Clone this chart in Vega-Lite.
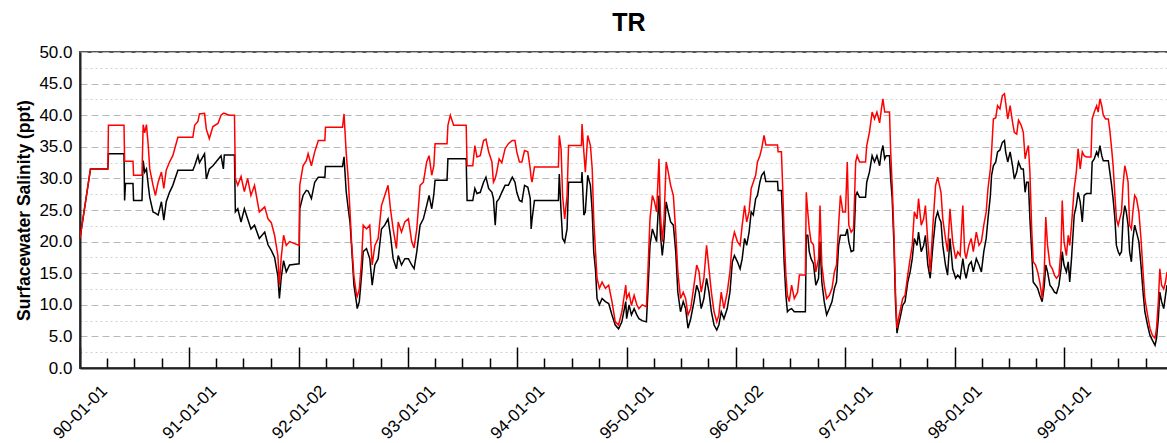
{
  "$schema": "https://vega.github.io/schema/vega-lite/v6.json",
  "width": 1090,
  "height": 316,
  "autosize": {"type": "none"},
  "padding": {"left": 80, "top": 52, "right": 0, "bottom": 75},
  "background": "white",
  "config": {
    "font": "Liberation Sans",
    "view": {"stroke": "#555555", "strokeWidth": 2}
  },
  "title": {"text": "TR", "fontSize": 25, "fontWeight": "bold", "color": "#000000", "offset": 7, "anchor": "middle", "dx": 4},
  "data": {"values": [
    {"d":"1990-01-01","r":20.5,"b":20.5},
    {"d":"1990-02-05","r":31.5,"b":31.5},
    {"d":"1990-04-04","r":31.5,"b":31.5},
    {"d":"1990-04-06","r":38.4,"b":33.9},
    {"d":"1990-05-28","r":38.4,"b":33.9},
    {"d":"1990-05-30","r":32.7,"b":26.5},
    {"d":"1990-06-02","r":32.7,"b":29.2},
    {"d":"1990-06-27","r":32.7,"b":29.2},
    {"d":"1990-06-29","r":30.5,"b":26.5},
    {"d":"1990-07-27","r":30.5,"b":26.5},
    {"d":"1990-07-31","r":38.5,"b":32.8},
    {"d":"1990-08-05","r":37.2,"b":31},
    {"d":"1990-08-11","r":38.5,"b":31.5},
    {"d":"1990-08-17","r":35.2,"b":28.9},
    {"d":"1990-08-22","r":31.5,"b":27},
    {"d":"1990-09-02","r":28.9,"b":24.7},
    {"d":"1990-09-10","r":27.3,"b":24.5},
    {"d":"1990-09-19","r":29.4,"b":24.2},
    {"d":"1990-09-30","r":31,"b":26.3},
    {"d":"1990-10-08","r":28.4,"b":23.4},
    {"d":"1990-10-16","r":31.3,"b":26.3},
    {"d":"1990-10-27","r":32.6,"b":27.8},
    {"d":"1990-11-07","r":33.6,"b":28.9},
    {"d":"1990-11-24","r":36.5,"b":31.3},
    {"d":"1991-01-13","r":36.5,"b":31.3},
    {"d":"1991-01-19","r":38.4,"b":32},
    {"d":"1991-01-30","r":39,"b":33.6},
    {"d":"1991-02-04","r":40.2,"b":32.5},
    {"d":"1991-02-21","r":40.3,"b":33.9},
    {"d":"1991-02-27","r":37.8,"b":29.9},
    {"d":"1991-03-09","r":36.3,"b":31.5},
    {"d":"1991-03-21","r":38.2,"b":32},
    {"d":"1991-04-07","r":38.7,"b":33},
    {"d":"1991-04-17","r":40,"b":33.6},
    {"d":"1991-04-25","r":40.3,"b":31.5},
    {"d":"1991-04-28","r":40.3,"b":33.7},
    {"d":"1991-05-15","r":40,"b":33.7},
    {"d":"1991-06-01","r":40,"b":33.7},
    {"d":"1991-06-04","r":30,"b":24.7},
    {"d":"1991-06-12","r":28.9,"b":25.2},
    {"d":"1991-06-23","r":30.3,"b":23.1},
    {"d":"1991-07-04","r":27.9,"b":25.2},
    {"d":"1991-07-15","r":30,"b":23.6},
    {"d":"1991-07-26","r":27.3,"b":22},
    {"d":"1991-08-07","r":28.9,"b":22.6},
    {"d":"1991-08-23","r":24.7,"b":20.5},
    {"d":"1991-09-10","r":25.5,"b":21.5},
    {"d":"1991-09-21","r":23.6,"b":19.5},
    {"d":"1991-10-02","r":23,"b":18.6},
    {"d":"1991-10-13","r":21,"b":17.5},
    {"d":"1991-10-24","r":17.8,"b":14.5},
    {"d":"1991-10-29","r":13.1,"b":11},
    {"d":"1991-11-04","r":17.4,"b":14.2},
    {"d":"1991-11-12","r":21,"b":17},
    {"d":"1991-11-21","r":19.4,"b":15.2},
    {"d":"1991-12-02","r":20,"b":16.3},
    {"d":"1992-01-03","r":19.4,"b":16.5},
    {"d":"1992-01-05","r":28.9,"b":25.2},
    {"d":"1992-01-16","r":32,"b":27.3},
    {"d":"1992-01-27","r":32.8,"b":28.1},
    {"d":"1992-02-02","r":33.9,"b":28},
    {"d":"1992-02-13","r":32,"b":26.8},
    {"d":"1992-02-24","r":34.2,"b":29.4},
    {"d":"1992-03-07","r":36,"b":30.2},
    {"d":"1992-03-29","r":36,"b":30.2},
    {"d":"1992-03-31","r":38.1,"b":31.9},
    {"d":"1992-05-27","r":38.1,"b":31.9},
    {"d":"1992-06-01","r":40.2,"b":33.4},
    {"d":"1992-06-08","r":34.2,"b":28},
    {"d":"1992-06-15","r":29.9,"b":25.2},
    {"d":"1992-06-21","r":24.7,"b":23},
    {"d":"1992-06-26","r":20,"b":19.4},
    {"d":"1992-07-04","r":14.5,"b":13.1},
    {"d":"1992-07-13","r":11.5,"b":10.2},
    {"d":"1992-07-15","r":11.3,"b":9.4},
    {"d":"1992-07-22","r":12.5,"b":10.5},
    {"d":"1992-07-30","r":17.3,"b":15},
    {"d":"1992-08-04","r":22.6,"b":18.4},
    {"d":"1992-08-15","r":22,"b":18.9},
    {"d":"1992-08-26","r":22.6,"b":17.3},
    {"d":"1992-09-03","r":16.3,"b":13.1},
    {"d":"1992-09-12","r":19.4,"b":16.3},
    {"d":"1992-09-23","r":20.5,"b":17.3},
    {"d":"1992-10-04","r":25.7,"b":22},
    {"d":"1992-10-15","r":27.3,"b":22.6},
    {"d":"1992-10-26","r":28.9,"b":23.6},
    {"d":"1992-11-03","r":25.2,"b":21},
    {"d":"1992-11-12","r":22,"b":17.3},
    {"d":"1992-11-23","r":18.9,"b":15.7},
    {"d":"1992-11-29","r":23.1,"b":17.8},
    {"d":"1992-12-10","r":21.5,"b":16.3},
    {"d":"1992-12-21","r":23.1,"b":17.3},
    {"d":"1993-01-02","r":23.6,"b":17.3},
    {"d":"1993-01-13","r":20,"b":16.3},
    {"d":"1993-01-21","r":19,"b":15.7},
    {"d":"1993-01-30","r":22,"b":18.4},
    {"d":"1993-02-10","r":28.9,"b":22.6},
    {"d":"1993-02-21","r":29.4,"b":23.6},
    {"d":"1993-03-04","r":32.6,"b":25.7},
    {"d":"1993-03-12","r":33.6,"b":27.3},
    {"d":"1993-03-21","r":30.5,"b":25.2},
    {"d":"1993-03-28","r":32,"b":27.5},
    {"d":"1993-04-01","r":35.5,"b":29.7},
    {"d":"1993-05-11","r":35.5,"b":29.7},
    {"d":"1993-05-14","r":38.4,"b":33.1},
    {"d":"1993-05-22","r":40,"b":33.1},
    {"d":"1993-06-02","r":38.4,"b":33.1},
    {"d":"1993-07-14","r":38.4,"b":33.1},
    {"d":"1993-07-17","r":32,"b":26.5},
    {"d":"1993-08-05","r":32,"b":26.5},
    {"d":"1993-08-12","r":35.2,"b":28.4},
    {"d":"1993-08-19","r":33.4,"b":27.6},
    {"d":"1993-08-30","r":33.6,"b":27.8},
    {"d":"1993-09-10","r":36,"b":29.4},
    {"d":"1993-09-18","r":36.2,"b":30.2},
    {"d":"1993-09-27","r":34.2,"b":28.4},
    {"d":"1993-10-08","r":32.6,"b":27.8},
    {"d":"1993-10-13","r":29.4,"b":26.8},
    {"d":"1993-10-19","r":30,"b":22.6},
    {"d":"1993-10-24","r":31,"b":26.3},
    {"d":"1993-11-01","r":33.1,"b":26.8},
    {"d":"1993-11-10","r":32.5,"b":27.8},
    {"d":"1993-11-21","r":34.7,"b":28.9},
    {"d":"1993-12-02","r":35.5,"b":28.9},
    {"d":"1993-12-15","r":36,"b":30.2},
    {"d":"1993-12-24","r":36,"b":29.4},
    {"d":"1993-12-30","r":34.2,"b":27.8},
    {"d":"1994-01-08","r":32.6,"b":26.5},
    {"d":"1994-01-16","r":32.6,"b":26.3},
    {"d":"1994-01-25","r":34.4,"b":28.9},
    {"d":"1994-02-05","r":34.2,"b":28.6},
    {"d":"1994-02-13","r":31.5,"b":26.8},
    {"d":"1994-02-16","r":30,"b":22},
    {"d":"1994-02-19","r":29.4,"b":23.5},
    {"d":"1994-02-27","r":31.8,"b":26.5},
    {"d":"1994-05-18","r":31.8,"b":26.5},
    {"d":"1994-05-21","r":36.8,"b":30.7},
    {"d":"1994-05-27","r":34.7,"b":24.7},
    {"d":"1994-06-01","r":27.3,"b":20.5},
    {"d":"1994-06-08","r":23.6,"b":19.9},
    {"d":"1994-06-16","r":27.3,"b":22},
    {"d":"1994-06-21","r":35.2,"b":29.4},
    {"d":"1994-08-03","r":35.2,"b":29.4},
    {"d":"1994-08-05","r":38.6,"b":31},
    {"d":"1994-08-11","r":34.2,"b":24.2},
    {"d":"1994-08-16","r":31,"b":24.7},
    {"d":"1994-08-24","r":36.8,"b":30.5},
    {"d":"1994-09-02","r":35.2,"b":28.9},
    {"d":"1994-09-08","r":31.5,"b":24.7},
    {"d":"1994-09-13","r":23.6,"b":18.4},
    {"d":"1994-09-19","r":18.4,"b":15.5},
    {"d":"1994-09-24","r":14.2,"b":11},
    {"d":"1994-10-02","r":12.6,"b":10},
    {"d":"1994-10-11","r":13.6,"b":11},
    {"d":"1994-10-22","r":12.6,"b":10.5},
    {"d":"1994-11-02","r":13.1,"b":10.2},
    {"d":"1994-11-13","r":10.5,"b":8.4},
    {"d":"1994-11-24","r":7.3,"b":6.8},
    {"d":"1994-12-05","r":6.8,"b":6.2},
    {"d":"1994-12-16","r":8.9,"b":7.3},
    {"d":"1994-12-29","r":13.1,"b":10.5},
    {"d":"1995-01-01","r":11,"b":7.8},
    {"d":"1995-01-09","r":11.8,"b":10},
    {"d":"1995-01-17","r":9.9,"b":8.4},
    {"d":"1995-01-26","r":11.5,"b":9.4},
    {"d":"1995-02-04","r":10,"b":8.4},
    {"d":"1995-02-11","r":9.4,"b":7.8},
    {"d":"1995-02-22","r":10,"b":7.5},
    {"d":"1995-03-08","r":9.7,"b":7.3},
    {"d":"1995-03-13","r":15.2,"b":12},
    {"d":"1995-03-20","r":23.6,"b":19.4},
    {"d":"1995-03-28","r":27.3,"b":22},
    {"d":"1995-04-04","r":26.3,"b":21},
    {"d":"1995-04-11","r":24.7,"b":20},
    {"d":"1995-04-19","r":33.1,"b":27.3},
    {"d":"1995-04-24","r":24.2,"b":21},
    {"d":"1995-04-30","r":20,"b":17.8},
    {"d":"1995-05-06","r":23.6,"b":20.5},
    {"d":"1995-05-13","r":32.6,"b":26.3},
    {"d":"1995-05-20","r":31,"b":24.7},
    {"d":"1995-05-28","r":28.9,"b":23.1},
    {"d":"1995-06-06","r":27.3,"b":22.6},
    {"d":"1995-06-14","r":21.5,"b":18.4},
    {"d":"1995-06-21","r":15.2,"b":12},
    {"d":"1995-06-30","r":11,"b":8.9},
    {"d":"1995-07-09","r":12,"b":10.5},
    {"d":"1995-07-17","r":11,"b":9.4},
    {"d":"1995-07-25","r":8.4,"b":6.3},
    {"d":"1995-08-03","r":9.4,"b":7.8},
    {"d":"1995-08-14","r":13.1,"b":10.5},
    {"d":"1995-08-23","r":16.3,"b":13.1},
    {"d":"1995-08-31","r":15.2,"b":12},
    {"d":"1995-09-07","r":12,"b":9.4},
    {"d":"1995-09-16","r":14.2,"b":11},
    {"d":"1995-09-25","r":19.4,"b":14.2},
    {"d":"1995-10-03","r":15.7,"b":12},
    {"d":"1995-10-11","r":12,"b":8.9},
    {"d":"1995-10-20","r":8.9,"b":6.8},
    {"d":"1995-10-29","r":7.3,"b":6},
    {"d":"1995-11-05","r":8.4,"b":6.8},
    {"d":"1995-11-13","r":12,"b":8.9},
    {"d":"1995-11-22","r":9.4,"b":7.8},
    {"d":"1995-12-03","r":12,"b":9.4},
    {"d":"1995-12-12","r":15.2,"b":12},
    {"d":"1995-12-20","r":20,"b":16.8},
    {"d":"1995-12-27","r":21.5,"b":17.8},
    {"d":"1996-01-06","r":20,"b":16.8},
    {"d":"1996-01-15","r":19.4,"b":15.7},
    {"d":"1996-01-22","r":22.6,"b":17.3},
    {"d":"1996-01-30","r":25.7,"b":20.5},
    {"d":"1996-02-06","r":23.1,"b":19.4},
    {"d":"1996-02-14","r":24.7,"b":21.5},
    {"d":"1996-02-21","r":28.4,"b":24.7},
    {"d":"1996-02-28","r":29.4,"b":24.2},
    {"d":"1996-03-07","r":30.5,"b":26.8},
    {"d":"1996-03-13","r":32.6,"b":27.3},
    {"d":"1996-03-21","r":33.6,"b":29.4},
    {"d":"1996-03-27","r":34.7,"b":30.5},
    {"d":"1996-04-04","r":36.8,"b":31},
    {"d":"1996-04-10","r":35.3,"b":29.5},
    {"d":"1996-05-19","r":35.3,"b":29.5},
    {"d":"1996-05-21","r":34.2,"b":28.1},
    {"d":"1996-06-01","r":34.2,"b":28.1},
    {"d":"1996-06-05","r":28.9,"b":23.6},
    {"d":"1996-06-10","r":21,"b":16.8},
    {"d":"1996-06-16","r":14.7,"b":11.5},
    {"d":"1996-06-21","r":11.5,"b":8.9},
    {"d":"1996-06-27","r":10.5,"b":9.2},
    {"d":"1996-07-05","r":13.1,"b":9.4},
    {"d":"1996-07-14","r":11,"b":8.9},
    {"d":"1996-07-25","r":12,"b":8.9},
    {"d":"1996-07-31","r":14.7,"b":8.9},
    {"d":"1996-08-20","r":14.7,"b":8.9},
    {"d":"1996-08-23","r":27.8,"b":21},
    {"d":"1996-08-28","r":24.7,"b":21},
    {"d":"1996-09-02","r":22,"b":18.4},
    {"d":"1996-09-08","r":20,"b":17.3},
    {"d":"1996-09-16","r":19.5,"b":16.5},
    {"d":"1996-09-24","r":15.2,"b":13.1},
    {"d":"1996-10-03","r":17.3,"b":14.2},
    {"d":"1996-10-08","r":25.7,"b":20},
    {"d":"1996-10-14","r":16.3,"b":13.6},
    {"d":"1996-10-22","r":13.1,"b":10.5},
    {"d":"1996-10-30","r":11,"b":8.4},
    {"d":"1996-11-08","r":11.5,"b":9.4},
    {"d":"1996-11-17","r":12.6,"b":10.5},
    {"d":"1996-11-25","r":15.2,"b":12.6},
    {"d":"1996-12-02","r":16.3,"b":13.6},
    {"d":"1996-12-09","r":22.6,"b":19.4},
    {"d":"1996-12-15","r":27.3,"b":21},
    {"d":"1996-12-23","r":24.7,"b":21},
    {"d":"1997-01-01","r":24.7,"b":21},
    {"d":"1997-01-07","r":32.6,"b":22},
    {"d":"1997-01-12","r":22.6,"b":20},
    {"d":"1997-01-20","r":21.5,"b":18.4},
    {"d":"1997-01-28","r":22,"b":18.6},
    {"d":"1997-02-04","r":32.6,"b":27.3},
    {"d":"1997-02-09","r":33.6,"b":27.8},
    {"d":"1997-02-17","r":32.6,"b":27},
    {"d":"1997-03-09","r":32.6,"b":27},
    {"d":"1997-03-13","r":35.2,"b":29.4},
    {"d":"1997-03-22","r":37.3,"b":31},
    {"d":"1997-03-31","r":40.5,"b":33.6},
    {"d":"1997-04-08","r":39.4,"b":32.6},
    {"d":"1997-04-16","r":40.5,"b":33.6},
    {"d":"1997-04-25","r":38.8,"b":32},
    {"d":"1997-05-01","r":41,"b":34.2},
    {"d":"1997-05-06","r":42.6,"b":35.2},
    {"d":"1997-05-12","r":40.5,"b":33.1},
    {"d":"1997-05-17","r":40.5,"b":33.6},
    {"d":"1997-05-28","r":40.5,"b":33.6},
    {"d":"1997-06-01","r":34.2,"b":29.9},
    {"d":"1997-06-06","r":28.9,"b":26.8},
    {"d":"1997-06-12","r":21,"b":19.4},
    {"d":"1997-06-17","r":12,"b":10.5},
    {"d":"1997-06-22","r":6.3,"b":5.5},
    {"d":"1997-06-27","r":7.8,"b":6.8},
    {"d":"1997-07-02","r":8.9,"b":7.8},
    {"d":"1997-07-11","r":11,"b":9.9},
    {"d":"1997-07-19","r":11.5,"b":10.5},
    {"d":"1997-07-28","r":14.7,"b":13.6},
    {"d":"1997-08-05","r":17.3,"b":15.2},
    {"d":"1997-08-12","r":19.4,"b":17.3},
    {"d":"1997-08-19","r":24.7,"b":20.5},
    {"d":"1997-08-28","r":23.6,"b":19.4},
    {"d":"1997-09-02","r":26.8,"b":21.5},
    {"d":"1997-09-11","r":22.6,"b":18.4},
    {"d":"1997-09-19","r":23.6,"b":19.4},
    {"d":"1997-09-25","r":25.7,"b":21},
    {"d":"1997-10-03","r":20,"b":16.3},
    {"d":"1997-10-11","r":15.2,"b":14.2},
    {"d":"1997-10-20","r":22.6,"b":19.4},
    {"d":"1997-10-29","r":28.9,"b":23.6},
    {"d":"1997-11-05","r":30.2,"b":24.7},
    {"d":"1997-11-11","r":28.9,"b":23.6},
    {"d":"1997-11-16","r":27.8,"b":23.1},
    {"d":"1997-11-22","r":23.6,"b":19.4},
    {"d":"1997-12-01","r":20.5,"b":16.3},
    {"d":"1997-12-08","r":18.4,"b":14.7},
    {"d":"1997-12-16","r":25.2,"b":20.5},
    {"d":"1997-12-25","r":20,"b":15.7},
    {"d":"1998-01-04","r":17.3,"b":14.2},
    {"d":"1998-01-11","r":18.4,"b":14.7},
    {"d":"1998-01-19","r":17.8,"b":14.2},
    {"d":"1998-01-28","r":25.7,"b":17.3},
    {"d":"1998-02-03","r":18.4,"b":15.2},
    {"d":"1998-02-08","r":17.3,"b":14.2},
    {"d":"1998-02-17","r":19.4,"b":16.3},
    {"d":"1998-02-25","r":20.5,"b":16.8},
    {"d":"1998-03-04","r":18.4,"b":15.2},
    {"d":"1998-03-14","r":21.5,"b":17.3},
    {"d":"1998-03-23","r":19.4,"b":16.3},
    {"d":"1998-03-31","r":20,"b":15.2},
    {"d":"1998-04-08","r":22.6,"b":18.4},
    {"d":"1998-04-16","r":24.7,"b":20.5},
    {"d":"1998-04-22","r":28.4,"b":23.6},
    {"d":"1998-04-30","r":31.5,"b":27.3},
    {"d":"1998-05-04","r":34.2,"b":30.5},
    {"d":"1998-05-10","r":39.4,"b":32},
    {"d":"1998-05-18","r":39.6,"b":32.6},
    {"d":"1998-05-24","r":41.5,"b":34.2},
    {"d":"1998-06-01","r":41,"b":34.5},
    {"d":"1998-06-09","r":43.1,"b":35.7},
    {"d":"1998-06-16","r":43.4,"b":36},
    {"d":"1998-06-20","r":42,"b":34.2},
    {"d":"1998-06-27","r":39.4,"b":32.6},
    {"d":"1998-07-05","r":41.5,"b":34.2},
    {"d":"1998-07-13","r":38.9,"b":32},
    {"d":"1998-07-19","r":37.3,"b":29.9},
    {"d":"1998-07-27","r":37,"b":31},
    {"d":"1998-08-02","r":39.2,"b":32.6},
    {"d":"1998-08-11","r":38.4,"b":31.5},
    {"d":"1998-08-18","r":37.3,"b":31.5},
    {"d":"1998-08-24","r":33.1,"b":27.8},
    {"d":"1998-08-29","r":34.2,"b":29.4},
    {"d":"1998-09-04","r":35.2,"b":29.4},
    {"d":"1998-09-09","r":31,"b":23.6},
    {"d":"1998-09-15","r":22,"b":18.4},
    {"d":"1998-09-20","r":16.8,"b":13.6},
    {"d":"1998-09-28","r":16.3,"b":13.1},
    {"d":"1998-10-05","r":15.2,"b":12.6},
    {"d":"1998-10-12","r":13.6,"b":11.5},
    {"d":"1998-10-20","r":11,"b":10.5},
    {"d":"1998-10-27","r":15.2,"b":13},
    {"d":"1998-11-01","r":23.9,"b":16.3},
    {"d":"1998-11-07","r":19.4,"b":15.2},
    {"d":"1998-11-15","r":16.3,"b":13.1},
    {"d":"1998-11-23","r":15.7,"b":12.6},
    {"d":"1998-11-30","r":14.7,"b":12},
    {"d":"1998-12-07","r":14.2,"b":11.8},
    {"d":"1998-12-15","r":14.7,"b":13.1},
    {"d":"1998-12-22","r":18.9,"b":15.7},
    {"d":"1998-12-26","r":26.5,"b":18.4},
    {"d":"1999-01-01","r":20,"b":16.3},
    {"d":"1999-01-09","r":17.8,"b":15.2},
    {"d":"1999-01-15","r":21,"b":16.8},
    {"d":"1999-01-20","r":19.4,"b":13.6},
    {"d":"1999-01-26","r":22.6,"b":17.3},
    {"d":"1999-02-04","r":28.4,"b":24.2},
    {"d":"1999-02-11","r":31,"b":25.7},
    {"d":"1999-02-17","r":34.7,"b":27.8},
    {"d":"1999-02-24","r":31.5,"b":26.3},
    {"d":"1999-03-03","r":34.2,"b":23.1},
    {"d":"1999-03-09","r":33.6,"b":27.3},
    {"d":"1999-03-17","r":33.4,"b":27.6},
    {"d":"1999-04-01","r":33.4,"b":27.6},
    {"d":"1999-04-05","r":39.4,"b":32.6},
    {"d":"1999-04-12","r":40.5,"b":33.1},
    {"d":"1999-04-20","r":41.5,"b":34.2},
    {"d":"1999-04-25","r":40.5,"b":33.6},
    {"d":"1999-05-01","r":42.6,"b":35.2},
    {"d":"1999-05-07","r":41.5,"b":33.6},
    {"d":"1999-05-12","r":40,"b":32.8},
    {"d":"1999-05-20","r":39.4,"b":32.8},
    {"d":"1999-05-29","r":39.4,"b":32.8},
    {"d":"1999-06-03","r":37.6,"b":31},
    {"d":"1999-06-09","r":34.7,"b":28.9},
    {"d":"1999-06-14","r":32,"b":26.8},
    {"d":"1999-06-20","r":27.3,"b":23.6},
    {"d":"1999-06-25","r":23.6,"b":19.4},
    {"d":"1999-07-01","r":22.6,"b":18.4},
    {"d":"1999-07-06","r":23.6,"b":17.9},
    {"d":"1999-07-12","r":24.7,"b":18.4},
    {"d":"1999-07-17","r":28.9,"b":23.6},
    {"d":"1999-07-23","r":32,"b":25.7},
    {"d":"1999-07-28","r":31,"b":24.7},
    {"d":"1999-08-03","r":29.4,"b":22.6},
    {"d":"1999-08-08","r":22.6,"b":18.4},
    {"d":"1999-08-14","r":22,"b":16.8},
    {"d":"1999-08-19","r":24.7,"b":20.5},
    {"d":"1999-08-25","r":27.3,"b":22.6},
    {"d":"1999-08-31","r":26.8,"b":21.5},
    {"d":"1999-09-08","r":24.7,"b":20},
    {"d":"1999-09-15","r":20.5,"b":16.3},
    {"d":"1999-09-22","r":15.2,"b":12},
    {"d":"1999-09-28","r":11,"b":8.9},
    {"d":"1999-10-07","r":8.4,"b":6.8},
    {"d":"1999-10-15","r":6.3,"b":5.2},
    {"d":"1999-10-23","r":5.2,"b":4.4},
    {"d":"1999-11-01","r":4.7,"b":3.6},
    {"d":"1999-11-06","r":6.3,"b":4.7},
    {"d":"1999-11-12","r":10.5,"b":7.8},
    {"d":"1999-11-17","r":15.7,"b":12},
    {"d":"1999-11-23","r":13.1,"b":10.5},
    {"d":"1999-11-30","r":12.5,"b":9.4},
    {"d":"1999-12-06","r":13.6,"b":11.5},
    {"d":"1999-12-11","r":15.2,"b":13.1}
  ]},
  "transform": [{"fold": ["b", "r"], "as": ["s", "v"]}],
  "mark": {"type": "line", "strokeWidth": 1.5},
  "encoding": {
    "x": {
      "field": "d",
      "type": "temporal",
      "scale": {
        "type": "utc",
        "domain": [
          {"year": 1990, "month": 1, "date": 1, "utc": true},
          {"year": 1999, "month": 12, "date": 21, "utc": true}
        ]
      },
      "axis": {
        "title": null,
        "grid": false,
        "values": [
          {"year":1990,"month":1,"date":1,"utc":true},{"year":1990,"month":4,"date":1,"utc":true},{"year":1990,"month":7,"date":1,"utc":true},{"year":1990,"month":10,"date":1,"utc":true},
          {"year":1991,"month":1,"date":1,"utc":true},{"year":1991,"month":4,"date":1,"utc":true},{"year":1991,"month":7,"date":1,"utc":true},{"year":1991,"month":10,"date":1,"utc":true},
          {"year":1992,"month":1,"date":2,"utc":true},{"year":1992,"month":4,"date":1,"utc":true},{"year":1992,"month":7,"date":1,"utc":true},{"year":1992,"month":10,"date":1,"utc":true},
          {"year":1993,"month":1,"date":1,"utc":true},{"year":1993,"month":4,"date":1,"utc":true},{"year":1993,"month":7,"date":1,"utc":true},{"year":1993,"month":10,"date":1,"utc":true},
          {"year":1994,"month":1,"date":1,"utc":true},{"year":1994,"month":4,"date":1,"utc":true},{"year":1994,"month":7,"date":1,"utc":true},{"year":1994,"month":10,"date":1,"utc":true},
          {"year":1995,"month":1,"date":1,"utc":true},{"year":1995,"month":4,"date":1,"utc":true},{"year":1995,"month":7,"date":1,"utc":true},{"year":1995,"month":10,"date":1,"utc":true},
          {"year":1996,"month":1,"date":2,"utc":true},{"year":1996,"month":4,"date":1,"utc":true},{"year":1996,"month":7,"date":1,"utc":true},{"year":1996,"month":10,"date":1,"utc":true},
          {"year":1997,"month":1,"date":1,"utc":true},{"year":1997,"month":4,"date":1,"utc":true},{"year":1997,"month":7,"date":1,"utc":true},{"year":1997,"month":10,"date":1,"utc":true},
          {"year":1998,"month":1,"date":1,"utc":true},{"year":1998,"month":4,"date":1,"utc":true},{"year":1998,"month":7,"date":1,"utc":true},{"year":1998,"month":10,"date":1,"utc":true},
          {"year":1999,"month":1,"date":1,"utc":true},{"year":1999,"month":4,"date":1,"utc":true},{"year":1999,"month":7,"date":1,"utc":true},{"year":1999,"month":10,"date":1,"utc":true}
        ],
        "labelExpr": "utcmonth(datum.value) == 0 ? utcFormat(datum.value, '%y-%m-%d') : ''",
        "labelAngle": -45,
        "labelAlign": "center",
        "labelBaseline": "middle",
        "labelPadding": 65,
        "labelFontSize": 17,
        "labelColor": "#000000",
        "labelOverlap": false,
        "labelBound": false,
        "labelFlush": false,
        "tickSize": {"condition": {"test": "utcmonth(datum.value) == 0", "value": -21}, "value": -10},
        "tickColor": "#000000",
        "tickWidth": 1.5,
        "domainColor": "#222222",
        "domainWidth": 2
      }
    },
    "y": {
      "field": "v",
      "type": "quantitative",
      "scale": {"domain": [0, 50], "nice": false},
      "axis": {
        "title": "Surfacewater Salinity (ppt)",
        "titleFontSize": 17.5,
        "titleFontWeight": "bold",
        "titleColor": "#000000",
        "titlePadding": 5,
        "values": [0,2.5,5,7.5,10,12.5,15,17.5,20,22.5,25,27.5,30,32.5,35,37.5,40,42.5,45,47.5,50],
        "labelExpr": "datum.value % 5 == 0 ? format(datum.value, '.1f') : ''",
        "labelFontSize": 17,
        "labelColor": "#000000",
        "labelPadding": 8,
        "labelOverlap": false,
        "ticks": false,
        "domainColor": "#222222",
        "domainWidth": 2,
        "grid": true,
        "gridWidth": 1,
        "gridDash": {"condition": {"test": "datum.value % 5 == 0", "value": [7, 4]}, "value": [2, 3]},
        "gridColor": {"condition": {"test": "datum.value % 5 == 0", "value": "#b8b8b8"}, "value": "#d0d0d0"}
      }
    },
    "color": {
      "field": "s",
      "type": "nominal",
      "scale": {"domain": ["b", "r"], "range": ["#000000", "#ff0000"]},
      "legend": null
    }
  }
}
